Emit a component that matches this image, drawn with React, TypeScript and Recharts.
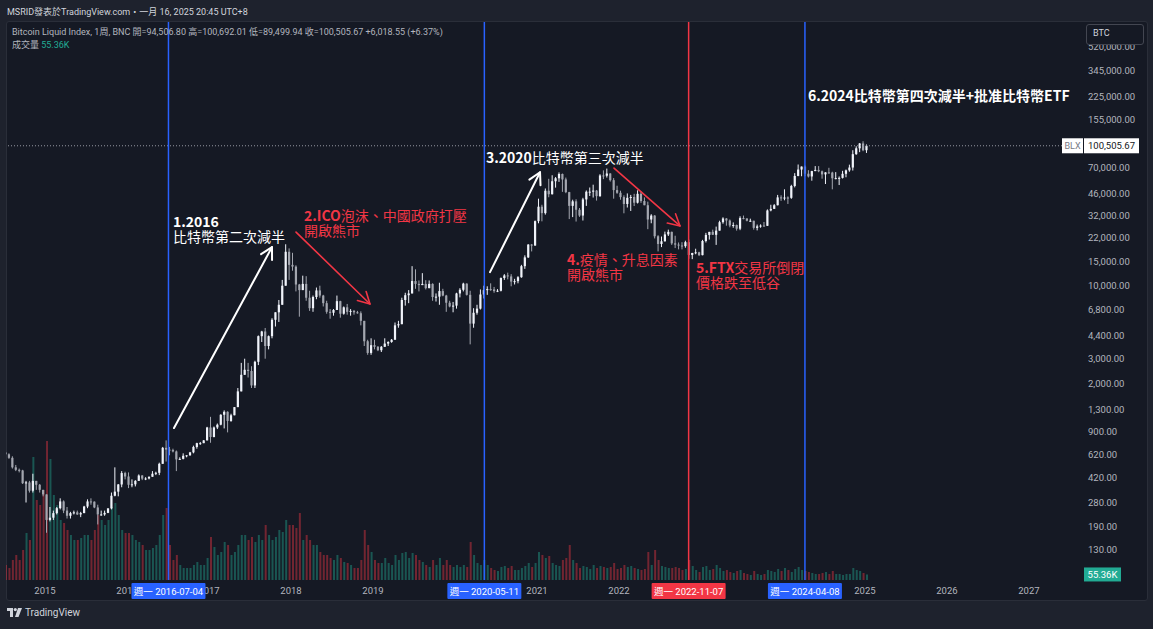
import { Bar, Cell, ComposedChart, ReferenceLine, XAxis, YAxis } from 'recharts';

// Bitcoin Liquid Index, half-month buckets from July 2014 (last bucket = current, partial)
const FIRST_BUCKET = 2014.5;
const FIRST_OPEN = 640;

const closes = [
  // 2014 H2
  620, 585, 500, 480, 475, 385, 390, 340, 400, 375, 345, 320,
  // 2015
  210, 218, 235, 255, 285, 245, 225, 235, 238, 230, 235, 262, 285, 284, 258, 230, 230, 236, 254, 313, 335, 377, 455, 430,
  // 2016
  375, 378, 400, 437, 415, 416, 428, 450, 457, 530, 690, 670, 665, 650, 570, 575, 605, 610, 640, 700, 745, 745, 780, 965,
  // 2017
  825, 965, 1010, 1190, 1250, 1075, 1180, 1350, 1750, 2300, 2500, 2450, 1930, 2850, 4350, 4700, 3700, 4350, 5700, 6450, 7300, 10000, 17500, 14100,
  // 2018
  13700, 10200, 9300, 10300, 8200, 6900, 8300, 9250, 8500, 7500, 6500, 6400, 6700, 7750, 6300, 7000, 6500, 6600, 6450, 6350, 5600, 4000, 3300, 3750,
  // 2019
  3650, 3450, 3650, 3850, 3950, 4100, 5200, 5300, 7900, 8550, 8800, 10800, 10300, 10100, 10300, 9600, 10300, 8300, 8350, 9150, 8500, 7550, 7100, 7200,
  // 2020
  8800, 9350, 10350, 8600, 5350, 6400, 6850, 8650, 9300, 9450, 9400, 9150, 9200, 11350, 11850, 11650, 10700, 10780, 11500, 13800, 15950, 19700, 19400, 29000,
  // 2021
  36800, 33100, 47900, 45200, 56000, 58800, 63100, 57700, 46800, 37300, 40200, 35000, 31800, 41500, 47100, 47150, 48000, 43800, 61600, 61300, 63600, 57000, 48400, 46300,
  // 2022
  43100, 38500, 42600, 43200, 39300, 45500, 40400, 37700, 29800, 31800, 22600, 19900, 20800, 23300, 24300, 20100, 19700, 19400, 19200, 20500, 16600, 17150, 17350, 16550,
  // 2023
  20900, 23100, 24300, 23150, 24800, 28500, 30300, 29300, 27000, 27200, 25600, 30500, 30300, 29200, 29200, 25950, 26600, 26950, 26850, 34600, 35500, 37700, 42900, 42300,
  // 2024
  42800, 42600, 51800, 61100, 67900, 71300, 63400, 60600, 66200, 67500, 66000, 62700, 64800, 64600, 58800, 59000, 59200, 63300, 67000, 70200, 87500, 96400, 104400, 93400,
  // 2025
  100505.67,
];

const highs = [
  660, 630, 600, 520, 490, 480, 400, 400, 450, 400, 380, 345,
  320, 260, 245, 260, 300, 290, 260, 240, 245, 245, 240, 265, 295, 300, 285, 270, 245, 245, 255, 330, 500, 380, 470, 465,
  460, 410, 405, 445, 440, 425, 430, 470, 465, 540, 700, 780, 700, 680, 660, 590, 630, 610, 645, 715, 750, 760, 785, 975,
  1150, 980, 1030, 1200, 1280, 1260, 1210, 1350, 1850, 2800, 3000, 2800, 2650, 2900, 4400, 4750, 4980, 4400, 5850, 6450, 7900, 11000, 19800, 18500,
  17200, 14000, 10300, 11800, 11700, 9200, 8500, 9700, 10000, 8600, 7800, 6800, 6800, 8500, 7800, 7100, 7400, 6800, 6700, 6600, 6550, 5600, 4100, 4200,
  4100, 3700, 3700, 4200, 4000, 4150, 5450, 5600, 8200, 8900, 9300, 13800, 13100, 10900, 12300, 10950, 10900, 10400, 8800, 10500, 9500, 8600, 7800, 7650,
  8900, 9600, 10500, 10400, 9200, 6900, 7300, 9400, 10000, 9900, 10400, 9800, 9450, 11450, 12100, 12400, 12100, 11200, 11700, 14100, 16500, 19850, 19900, 29300,
  42000, 38000, 49700, 58300, 61800, 60000, 64800, 63600, 59500, 47000, 41300, 41600, 36000, 42600, 48100, 50500, 52900, 48500, 62900, 67000, 69000, 64000, 59000, 52000,
  47900, 44400, 45800, 44700, 45500, 48200, 47400, 42900, 40000, 32500, 32000, 23000, 22500, 24400, 25200, 24400, 22800, 20400, 20500, 21000, 21400, 17200, 18400, 17500,
  21300, 23900, 24300, 25200, 26500, 29200, 30900, 30500, 29800, 28400, 27400, 31400, 31800, 30400, 30200, 29200, 27400, 27500, 28600, 35200, 38000, 38400, 44700, 44400,
  49000, 43600, 52800, 64000, 73800, 71500, 72700, 67200, 66500, 71900, 71900, 66800, 65000, 69900, 65500, 65100, 60600, 66500, 67900, 73600, 93400, 99600, 105100, 108300,
  102700,
];

const lows = [
  610, 575, 490, 470, 460, 380, 280, 330, 330, 345, 330, 310,
  170, 205, 210, 230, 250, 235, 215, 215, 230, 228, 220, 235, 255, 270, 255, 195, 225, 225, 235, 250, 310, 310, 360, 410,
  355, 360, 365, 400, 405, 405, 410, 428, 440, 440, 530, 550, 610, 640, 470, 565, 570, 590, 605, 630, 680, 725, 745, 780,
  750, 820, 940, 1000, 950, 890, 1060, 1180, 1350, 1750, 2300, 2200, 1850, 1850, 2700, 3950, 3000, 3500, 4200, 5100, 5500, 7300, 10000, 11000,
  12800, 9100, 6000, 9300, 7800, 6600, 6500, 8000, 8200, 7100, 6300, 5800, 6100, 6700, 5900, 6200, 6200, 6100, 6200, 6300, 5200, 3700, 3200, 3200,
  3500, 3400, 3350, 3650, 3700, 3900, 4100, 5000, 5300, 7200, 7500, 8800, 9500, 9100, 10100, 9400, 9600, 7800, 7700, 7300, 8400, 6500, 7000, 6450,
  6850, 8250, 9100, 8500, 3800, 5000, 6200, 6750, 8100, 8600, 9200, 8900, 9000, 9100, 11000, 11100, 9900, 10200, 10400, 11400, 13200, 15800, 17600, 19300,
  28000, 28900, 32300, 43000, 45000, 50400, 55400, 47000, 46000, 30000, 31000, 28800, 31100, 29300, 37300, 43900, 42800, 40700, 43300, 58000, 59500, 55700, 42000, 45500,
  41300, 33000, 36300, 34300, 37200, 38800, 39200, 37700, 25400, 28000, 21800, 17600, 18900, 20700, 22700, 19600, 18600, 18200, 18200, 18700, 15600, 15500, 16800, 16300,
  16500, 20400, 21400, 23100, 19600, 24800, 27800, 26900, 26200, 26000, 24800, 25000, 29900, 28900, 28700, 25200, 24900, 26000, 26600, 26800, 34100, 35500, 37600, 40500,
  40900, 38500, 41900, 50600, 60800, 60800, 60800, 59600, 56500, 66100, 65000, 58400, 53500, 63400, 49000, 57800, 52600, 58600, 59800, 65500, 66800, 86600, 90500, 91900,
  89300,
];

// volume, thousands
const volumesK = [
  150, 120, 200, 250, 200, 300, 470, 400, 1230, 800, 750, 900,
  1390, 1210, 850, 750, 600, 570, 500, 450, 400, 400, 420, 450, 450, 400, 500, 650, 600, 550, 600, 730, 770, 650, 500, 470,
  470, 450, 400, 380, 350, 300, 300, 320, 350, 450, 650, 720, 350, 200, 250, 150, 120, 120, 120, 150, 180, 150, 150, 220,
  430, 330, 250, 280, 380, 350, 250, 280, 350, 450, 450, 400, 430, 380, 450, 400, 550, 450, 400, 430, 500, 480, 600, 550,
  550, 520, 670, 400, 450, 400, 350, 350, 280, 250, 250, 220, 200, 250, 220, 180, 170, 150, 120, 120, 200, 500, 350, 280,
  200, 170, 170, 220, 170, 150, 250, 200, 270, 280, 220, 270, 250, 200, 180, 150, 130, 200, 150, 220, 150, 200, 150, 130,
  150, 130, 150, 130, 380, 250, 170, 150, 200, 150, 120, 100, 90, 130, 140, 120, 140, 100, 100, 120, 140, 170, 130, 170,
  280, 250, 220, 240, 170, 150, 140, 200, 220, 350, 200, 170, 120, 140, 130, 110, 150, 120, 140, 130, 120, 130, 170, 110,
  120, 150, 130, 140, 120, 110, 100, 110, 280, 150, 300, 200, 140, 130, 120, 120, 130, 120, 100, 110, 200, 140, 100, 80,
  130, 140, 100, 110, 150, 120, 90, 100, 80, 70, 90, 100, 70, 60, 50, 90, 60, 50, 60, 100, 90, 80, 110, 90,
  120, 100, 80, 110, 130, 100, 90, 80, 70, 60, 60, 70, 80, 60, 90, 60, 60, 50, 60, 60, 120, 100, 90, 70,
  55.36,
];

const priceTicks = [130, 190, 280, 420, 620, 900, 1300, 2000, 3000, 4400, 6800, 10000, 15000, 22000, 32000, 46000, 70000, 155000, 225000, 345000, 520000];
const yearTicks = [2015, 2016, 2017, 2018, 2019, 2020, 2021, 2022, 2023, 2024, 2025, 2026, 2027];

const BLUE = '#2962ff';
const RED = '#f23645';
const WHITE = '#ffffff';
const TEAL = '#22ab94';
const AXIS_TEXT = '#b2b5be';
const UI_FONT = "Roboto, 'Noto Sans CJK TC', sans-serif";
const NOTE_FONT = "'Noto Sans CJK TC', 'Noto Sans', sans-serif";
const X_DOMAIN = [2014.524, 2027.659];

const markers = [
  { date: '2016-07-04', color: BLUE },
  { date: '2020-05-11', color: BLUE },
  { date: '2022-11-07', color: RED },
  { date: '2024-04-08', color: BLUE },
];

const arrows = [
  { from: [2016.573, 956], to: [2017.768, 18900], color: WHITE, width: 2 },
  { from: [2018.061, 24200], to: [2018.963, 7400], color: RED, width: 1.6 },
  { from: [2020.427, 12500], to: [2021.037, 65000], color: WHITE, width: 2 },
  { from: [2021.939, 69600], to: [2022.744, 26800], color: RED, width: 1.6 },
];

// annotation texts: [bold prefix, rest] per line
const notes = [
  { left: 173, top: 214, color: WHITE, lines: [['1.2016', ''], ['', '比特幣第二次減半']] },
  { left: 304, top: 208, color: RED, lines: [['2.ICO', '泡沫、中國政府打壓'], ['', '開啟熊市']] },
  { left: 486, top: 150, color: WHITE, lines: [['3.2020', '比特幣第三次減半']] },
  { left: 567, top: 252, color: RED, lines: [['4.', '疫情、升息因素'], ['', '開啟熊市']] },
  { left: 696, top: 260, color: RED, lines: [['5.FTX', '交易所倒閉'], ['', '價格跌至低谷']] },
  { left: 808, top: 88, color: WHITE, lines: [['6.2024比特幣第四次減半+批准比特幣ETF', '']] },
];

const lastClose = closes[closes.length - 1];
const lastVolume = volumesK[volumesK.length - 1];

function yearFrac(date: string) {
  const [y, m, d] = date.split('-').map(Number);
  const start = Date.UTC(y, 0, 1);
  const days = (Date.UTC(y + 1, 0, 1) - start) / 864e5;
  return y + (Date.UTC(y, m - 1, d) - start) / 864e5 / days;
}

const markerTicks = markers.map((m) => yearFrac(m.date));
// year labels that a date tag hides completely are left out
const visibleYears = yearTicks.filter((y) => markerTicks.every((t) => Math.abs(t - y) > 0.39));

const candles = closes.map((close, i) => ({
  t: FIRST_BUCKET + i / 24 + 1 / 48,
  open: i === 0 ? FIRST_OPEN : closes[i - 1],
  high: highs[i],
  low: lows[i],
  close,
  vol: volumesK[i],
}));

const fmtPrice = (v: number) => v.toLocaleString('en-US', { minimumFractionDigits: 2, maximumFractionDigits: 2 });

function Candle(props: any) {
  const { x, y, width, height, payload } = props;
  if (!payload) return null;
  const top = Math.min(y, y + height);
  const h = Math.abs(height);
  const lh = Math.log(payload.high);
  const ll = Math.log(payload.low);
  const toY = (v: number) => top + ((lh - Math.log(v)) / (lh - ll || 1)) * h;
  const up = payload.close >= payload.open;
  const color = up ? '#f0f3fa' : '#a3a6af';
  const yo = toY(payload.open);
  const yc = toY(payload.close);
  const cx = x + width / 2;
  return (
    <g>
      <line x1={cx} x2={cx} y1={top} y2={top + h} stroke={color} strokeWidth={1} />
      <rect x={cx - 1.1} y={Math.min(yo, yc)} width={2.2} height={Math.max(1, Math.abs(yo - yc))} fill={color} />
    </g>
  );
}

function Arrow(props: any) {
  const { x1, y1, x2, y2, stroke, strokeWidth } = props;
  const a = Math.atan2(y2 - y1, x2 - x1);
  const len = 13;
  const spread = 0.5;
  const p1 = `${x2 - len * Math.cos(a - spread)},${y2 - len * Math.sin(a - spread)}`;
  const p2 = `${x2 - len * Math.cos(a + spread)},${y2 - len * Math.sin(a + spread)}`;
  return (
    <g>
      <line x1={x1} y1={y1} x2={x2} y2={y2} stroke={stroke} strokeWidth={strokeWidth} strokeLinecap="round" />
      <polyline points={`${p1} ${x2},${y2} ${p2}`} fill="none" stroke={stroke} strokeWidth={strokeWidth} strokeLinecap="round" strokeLinejoin="round" />
    </g>
  );
}

function PriceTick({ x, y, payload }: any) {
  return (
    <text x={x} y={y} dy={3.5} fill={AXIS_TEXT} fontSize={9.5} fontFamily={UI_FONT} textAnchor="start">
      {fmtPrice(payload.value)}
    </text>
  );
}

// the time axis draws the year labels first, then the date tags of the marker lines on top of them
function TimeTick({ x, y, payload }: any) {
  const i = markerTicks.findIndex((t) => Math.abs(t - payload.value) < 1e-6);
  if (i < 0) {
    return (
      <text x={x} y={y + 14} fill={AXIS_TEXT} fontSize={9.5} fontFamily={UI_FONT} textAnchor="middle">
        {payload.value}
      </text>
    );
  }
  const m = markers[i];
  return (
    <g>
      <rect x={x - 37} y={y + 3} width={74} height={16} fill={m.color} rx={1} />
      <text x={x} y={y + 14.5} fill={WHITE} fontSize={9.5} fontFamily={UI_FONT} textAnchor="middle">
        週一 {m.date}
      </text>
    </g>
  );
}

const priceTag = (props: any) => {
  const { x, y, width } = props.viewBox;
  const right = x + width;
  return (
    <g fontFamily={UI_FONT}>
      <rect x={right - 21} y={y - 7.5} width={21} height={15} fill={WHITE} />
      <text x={right - 10.5} y={y + 3.5} fill="#787b86" fontSize={9} textAnchor="middle">BLX</text>
      <rect x={right + 1} y={y - 7.5} width={55} height={15} fill={WHITE} />
      <text x={right + 28.5} y={y + 3.5} fill="#131722" fontSize={9.5} textAnchor="middle">{fmtPrice(lastClose)}</text>
    </g>
  );
};

const volumeTag = (props: any) => {
  const { x, y, width } = props.viewBox;
  const right = x + width;
  return (
    <g fontFamily={UI_FONT}>
      <rect x={right + 1} y={y - 7} width={37} height={14} fill={TEAL} />
      <text x={right + 19.5} y={y + 3.5} fill={WHITE} fontSize={9.5} textAnchor="middle">{lastVolume}K</text>
    </g>
  );
};

export default function App() {
  return (
    <div style={{ position: 'absolute', left: 0, top: 0, width: 1153, height: 629, background: '#1e222d', overflow: 'hidden', fontFamily: UI_FONT }}>
      <div style={{ position: 'absolute', left: 6, top: 21, width: 1142, height: 580, background: '#151924', border: '1px solid #2a2e39', borderRadius: 3, boxSizing: 'border-box' }} />
      <div style={{ position: 'absolute', left: 0, top: 0 }}>
        <ComposedChart width={1153} height={629} data={candles} margin={{ top: 22, right: 5, bottom: 29, left: 6 }}>
          <XAxis
            dataKey="t"
            type="number"
            domain={X_DOMAIN}
            allowDataOverflow
            ticks={[...visibleYears, ...markerTicks]}
            interval={0}
            tick={<TimeTick />}
            tickLine={false}
            axisLine={false}
            tickSize={0}
            tickMargin={0}
            height={20}
          />
          <YAxis
            orientation="right"
            type="number"
            scale="log"
            domain={[78, 774000]}
            allowDataOverflow
            ticks={priceTicks}
            interval={0}
            tick={<PriceTick />}
            tickLine={false}
            axisLine={false}
            tickSize={0}
            tickMargin={5}
            width={65}
          />
          <XAxis xAxisId="v" dataKey="t" type="number" domain={X_DOMAIN} allowDataOverflow hide />
          <YAxis yAxisId="v" type="number" domain={[0, 5580]} allowDataOverflow hide />
          <Bar xAxisId="v" yAxisId="v" dataKey="vol" barSize={2} isAnimationActive={false}>
            {candles.map((c) => (
              <Cell key={c.t} fill={c.close >= c.open ? TEAL : RED} fillOpacity={0.42} />
            ))}
          </Bar>
          <Bar dataKey={(d: any) => [d.low, d.high]} barSize={3} shape={Candle} isAnimationActive={false} />
          <ReferenceLine y={lastClose} stroke="#9598a1" strokeDasharray="1 2" label={priceTag} />
          <ReferenceLine xAxisId="v" yAxisId="v" y={lastVolume} stroke="none" label={volumeTag} />
          {markers.map((m, i) => (
            <ReferenceLine key={m.date} x={markerTicks[i]} stroke={m.color} strokeWidth={1.5} />
          ))}
          {arrows.map((a, i) => (
            <ReferenceLine
              key={i}
              segment={[{ x: a.from[0], y: a.from[1] }, { x: a.to[0], y: a.to[1] }]}
              stroke={a.color}
              strokeWidth={a.width}
              shape={Arrow}
            />
          ))}
        </ComposedChart>
      </div>

      <div style={{ position: 'absolute', left: 7, top: 5, fontSize: 9, color: '#d1d4dc', whiteSpace: 'nowrap' }}>
        MSRID發表於TradingView.com・一月 16, 2025 20:45 UTC+8
      </div>
      <div style={{ position: 'absolute', left: 12, top: 25, fontSize: 9, color: AXIS_TEXT, whiteSpace: 'nowrap' }}>
        Bitcoin Liquid Index, 1周, BNC 開=94,506.80 高=100,692.01 低=89,499.94 收=100,505.67 +6,018.55 (+6.37%)
      </div>
      <div style={{ position: 'absolute', left: 12, top: 38, fontSize: 9, color: AXIS_TEXT, whiteSpace: 'nowrap' }}>
        成交量 <span style={{ color: TEAL }}>55.36K</span>
      </div>
      <div style={{ position: 'absolute', left: 1086, top: 24, width: 58, height: 21, background: '#151924', border: '1px solid #434651', borderRadius: 3, boxSizing: 'border-box', color: '#d1d4dc', fontSize: 9, lineHeight: '17px', paddingLeft: 6 }}>
        BTC
      </div>

      {notes.map((n) =>
        n.lines.map(([bold, rest], li) => (
          <div
            key={`${n.left}-${li}`}
            style={{ position: 'absolute', left: n.left, top: n.top + li * 15, height: 14, color: n.color, fontFamily: NOTE_FONT, fontSize: 14, lineHeight: '14px', whiteSpace: 'nowrap' }}
          >
            {bold && <b>{bold}</b>}
            {rest}
          </div>
        ))
      )}

      <div style={{ position: 'absolute', left: 7, top: 607, display: 'flex', alignItems: 'center', gap: 3, color: '#d1d4dc', fontSize: 10 }}>
        <svg width={15} height={9} viewBox="0 0 15 9">
          <rect x={0} y={0} width={6} height={3} fill="#d1d4dc" />
          <rect x={3} y={0} width={3} height={9} fill="#d1d4dc" />
          <circle cx={8.3} cy={1.6} r={1.6} fill="#d1d4dc" />
          <polygon points="11,0 15,0 11.5,9 8,9" fill="#d1d4dc" />
        </svg>
        TradingView
      </div>
    </div>
  );
}
